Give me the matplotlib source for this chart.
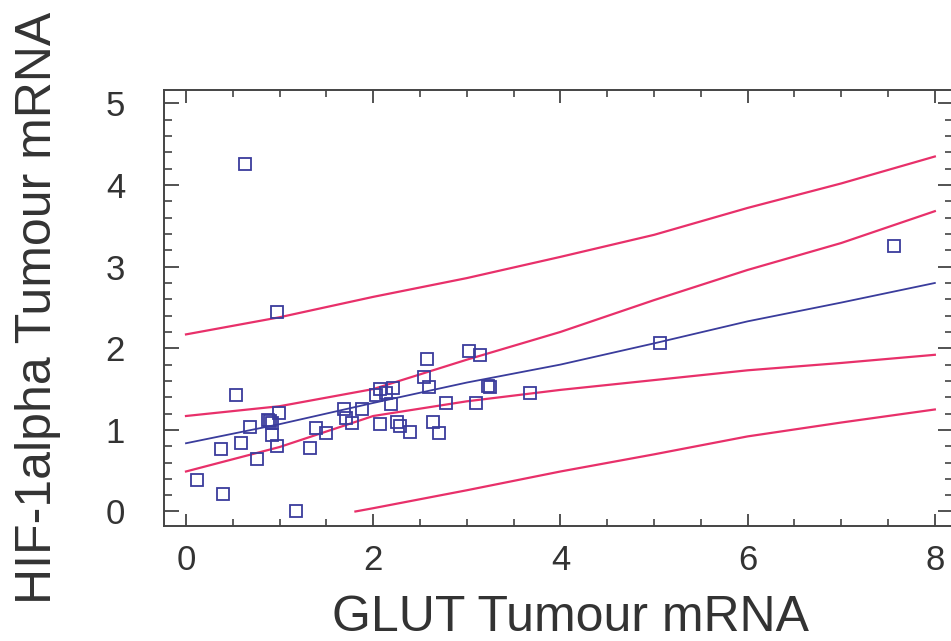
import matplotlib
matplotlib.use("Agg")
import matplotlib.pyplot as plt
from matplotlib.ticker import MultipleLocator
from matplotlib import font_manager

# ---- data ----
glut = [0.97, 0.53, 0.12, 0.40, 1.18, 0.37, 0.59, 0.68, 0.76, 0.90, 0.88, 0.92,
        0.92, 0.99, 0.97, 1.33, 1.39, 1.50, 1.69, 1.71, 1.77, 1.88, 2.03, 2.07,
        2.14, 2.21, 2.19, 2.07, 2.25, 2.29, 2.39, 2.57, 2.54, 2.60, 2.64, 2.70,
        2.78, 3.02, 3.14, 3.10, 3.23, 3.25, 3.67, 0.63, 5.06, 7.56]
hif = [2.44, 1.43, 0.39, 0.22, 0.01, 0.76, 0.84, 1.04, 0.64, 1.11, 1.12, 1.08,
       0.94, 1.21, 0.80, 0.78, 1.02, 0.96, 1.25, 1.15, 1.08, 1.25, 1.43, 1.50,
       1.45, 1.51, 1.32, 1.07, 1.10, 1.05, 0.98, 1.87, 1.65, 1.53, 1.10, 0.96,
       1.33, 1.97, 1.92, 1.33, 1.54, 1.52, 1.45, 4.26, 2.07, 3.25]

band_x = [0, 1, 2, 3, 4, 5, 6, 7, 8]
fit_y = [0.836, 1.07, 1.33, 1.58, 1.80, 2.06, 2.33, 2.56, 2.80]
conf_upper = [1.17, 1.29, 1.50, 1.86, 2.20, 2.59, 2.96, 3.29, 3.68]
conf_lower = [0.49, 0.79, 1.17, 1.35, 1.49, 1.61, 1.73, 1.82, 1.92]
pred_upper = [2.17, 2.38, 2.63, 2.86, 3.12, 3.39, 3.72, 4.02, 4.35]
pred_lower_x = [1.81, 2, 3, 4, 5, 6, 7, 8]
pred_lower = [0.0, 0.04, 0.26, 0.49, 0.70, 0.92, 1.09, 1.25]

x_ticks = [0, 2, 4, 6, 8]
y_ticks = [0, 1, 2, 3, 4, 5]

plt.rcParams['font.family'] = ['Liberation Sans', 'DejaVu Sans']
txt = '#333333'
red = '#E8306A'
blue = '#3A3C9C'

fig = plt.figure(figsize=(9.51, 6.41), dpi=100)
ax = fig.add_axes([164/951, 1-526/641, (953-164)/951, (526-90)/641])

ax.plot(band_x, pred_upper, color=red, lw=1.6)
ax.plot(band_x, conf_upper, color=red, lw=1.6)
ax.plot(band_x, conf_lower, color=red, lw=1.6)
ax.plot(pred_lower_x, pred_lower, color=red, lw=1.6)
ax.plot(band_x, fit_y, color=blue, lw=1.3)
ax.plot(glut, hif, linestyle='none', marker='s', markersize=8.5,
        markerfacecolor='none', markeredgecolor=blue, markeredgewidth=1.3)

ax.set_xlim(-0.235, 8.194)
ax.set_ylim(-0.178, 5.165)
ax.set_xticks(x_ticks)
ax.set_yticks(y_ticks)
ax.xaxis.set_minor_locator(MultipleLocator(0.5))
ax.yaxis.set_minor_locator(MultipleLocator(0.2))

for s in ax.spines.values():
    s.set_color('#444444')
    s.set_linewidth(1.4)

ax.tick_params(axis='x', which='major', direction='in', length=9, width=1.3,
               top=True, color='#444444', labelsize=25, labelcolor=txt, pad=13)
ax.tick_params(axis='x', which='minor', direction='in', length=5, width=1.2,
               top=True, color='#444444')
ax.tick_params(axis='y', which='major', direction='in', length=11, width=1.3,
               right=True, color='#444444', labelsize=25, labelcolor=txt, pad=28)
ax.tick_params(axis='y', which='minor', direction='in', length=6, width=1.2,
               right=True, color='#444444')

ax.set_xlabel('GLUT Tumour mRNA', fontsize=36, color=txt)
ax.set_ylabel('HIF-1alpha Tumour mRNA', fontsize=36, color=txt)
ax.xaxis.set_label_coords(0.515, -0.158)
ax.yaxis.set_label_coords(-0.131, 0.5)

fig.savefig('out.png', dpi=100)
